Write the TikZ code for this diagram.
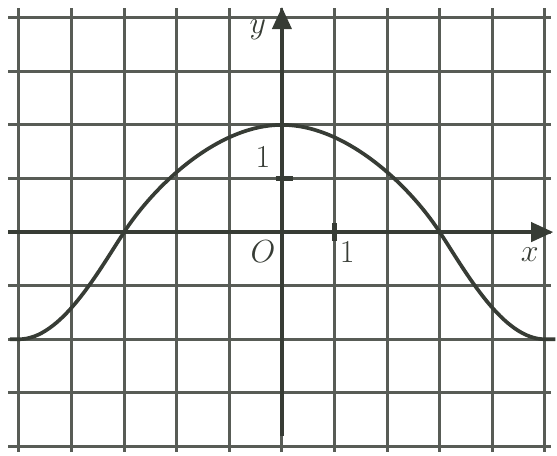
\documentclass[tikz,border=0pt]{standalone}
\usepackage{amsmath}
\usepackage{amssymb}
\usepackage{xcolor}
\usepackage{tikz}
\usetikzlibrary{arrows.meta}
\definecolor{ink}{HTML}{373C35}
\definecolor{gridink}{HTML}{585C56}

\begin{document}
\begin{tikzpicture}[x=1cm,y=1.019cm,font=\fontsize{16}{18}\selectfont,
      gridline/.style={draw=gridink,line width=1.6pt},
      axis/.style={draw=ink,line width=2.2pt,-{Triangle[length=0.42cm,width=0.36cm]}},
      tick/.style={draw=ink,line width=2.4pt},
      graph/.style={draw=ink,line width=2pt},
      lab/.style={inner sep=1pt,text=ink}]
    \useasboundingbox (-5.36,-4.16) rectangle (5.23,4.33);
    % squared paper
    \foreach \i in {-5,...,5} {
      \draw[gridline] (\i,-4.1) -- (\i,4.18);
    }
    \foreach \j in {-4,...,4} {
      \draw[gridline] (-5.2,\j) -- (5.12,\j);
    }
    % axes
    \coordinate (xstart) at (-5.2,0);
    \coordinate (xend) at (5.16,0);
    \coordinate (ystart) at (0,-3.8);
    \coordinate (yend) at (0,4.2);
    \draw[axis] (xstart) -- (xend);
    \draw[axis] (ystart) -- (yend);
    \draw[tick] (-0.12,1) -- (0.22,1);
    \draw[tick] (1,0.16) -- (1,-0.16);
    \node[lab] (ylab) at (-0.46,3.77) {$y$};
    \node[lab] (xlab) at (4.71,-0.43) {$x$};
    \node[lab] (one-y) at (-0.36,1.40) {$1$};
    \node[lab] (orig) at (-0.36,-0.37) {$O$};
    \node[lab] (one-x) at (1.24,-0.37) {$1$};
    % the curve
    \draw[graph] (-5.17,-2) -- (-5,-2) .. controls (-4.2,-2) and (-3.5,-0.75) .. (-3,0)
      .. controls (-2.4,0.9) and (-1.2,2) .. (0,2)
      .. controls (1.2,2) and (2.4,0.9) .. (3,0)
      .. controls (3.5,-0.75) and (4.2,-2) .. (5,-2) -- (5.2,-2);
  \end{tikzpicture}
\end{document}
